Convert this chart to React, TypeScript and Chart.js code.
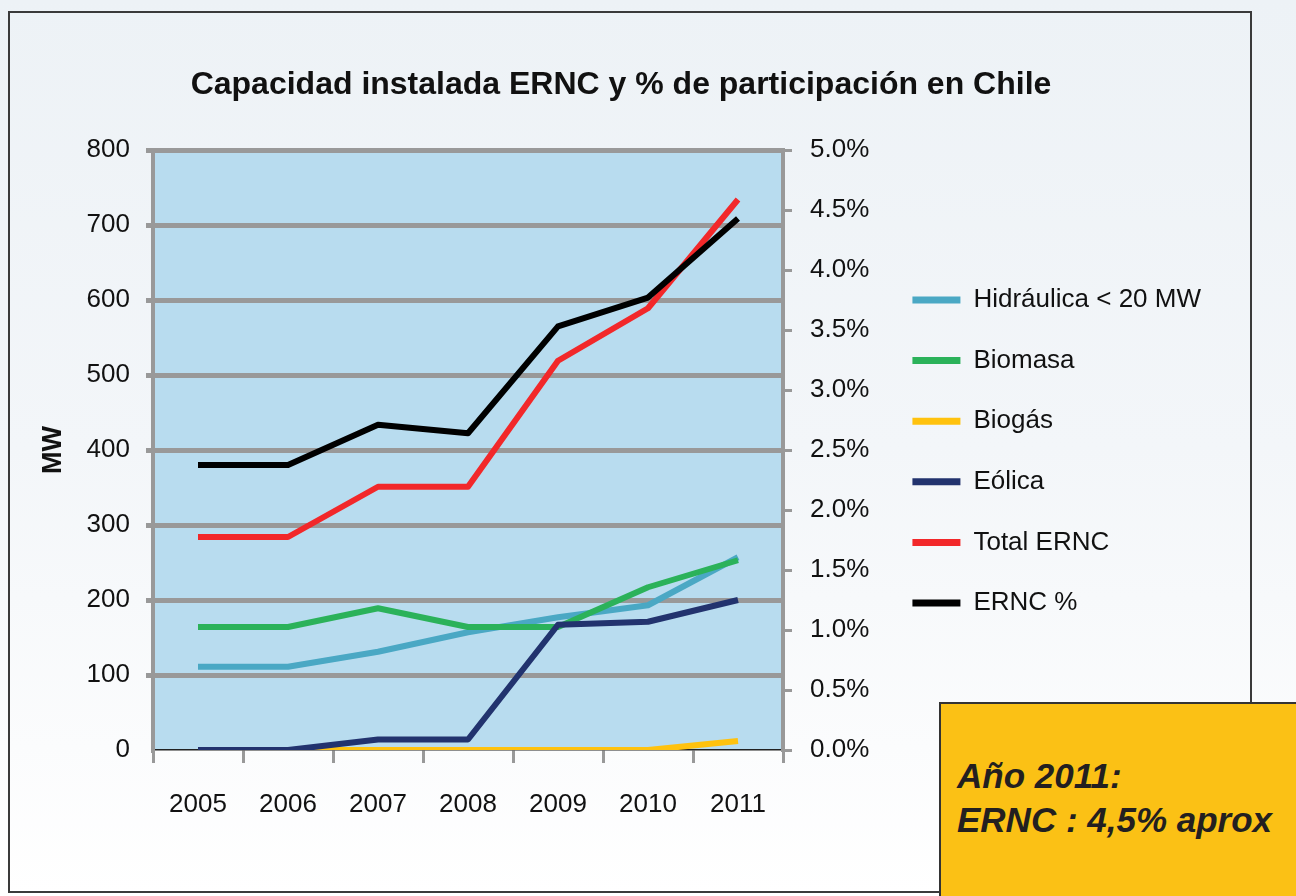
import React, { useEffect, useRef } from "react";
import { Chart, registerables } from "chart.js";

Chart.register(...registerables);

// ---- data ----
const years = ["2005", "2006", "2007", "2008", "2009", "2010", "2011"];
const hidraulica = [111, 111, 131, 157, 177, 193, 257];
const biomasa = [164, 164, 189, 164, 164, 217, 253];
const biogas = [0, 0, 0, 0, 0, 0, 12];
const eolica = [0, 0, 14, 14, 167, 171, 200];
const totalErnc = [284, 284, 351, 351, 519, 589, 734];
const ernccPct = [2.375, 2.375, 2.71, 2.64, 3.53, 3.77, 4.43];

const seriesNames = ["Hidráulica < 20 MW", "Biomasa", "Biogás", "Eólica", "Total ERNC", "ERNC %"];
const seriesColors = ["#4aa8c4", "#2bb25a", "#ffc20e", "#22336e", "#f2282a", "#000000"];

const titleText = "Capacidad instalada ERNC y % de participación en Chile";
const leftAxisTitle = "MW";
const noteLines = ["Año 2011:", "ERNC : 4,5% aprox"];

const FONT = "'Liberation Sans', Arial, Helvetica, sans-serif";
const GRID = "#999999";

const PAD_L = 31;
const PAD_R = 85;
const PAD_T = 7;

export default function App() {
  const ref = useRef<HTMLCanvasElement | null>(null);

  useEffect(() => {
    if (!ref.current) return;
    const bgPlugin = {
      id: "plotBg",
      beforeDraw(chart: any) {
        const { ctx, chartArea } = chart;
        if (!chartArea) return;
        ctx.save();
        ctx.fillStyle = "#b8dcef";
        ctx.fillRect(chartArea.left, chartArea.top, chartArea.right - chartArea.left, chartArea.bottom - chartArea.top);
        ctx.restore();
      },
    };

    const values = [hidraulica, biomasa, biogas, eolica, totalErnc, ernccPct];
    const datasets = values.map((d, i) => ({
      label: seriesNames[i],
      data: d,
      borderColor: seriesColors[i],
      backgroundColor: seriesColors[i],
      borderWidth: 6,
      pointRadius: 0,
      tension: 0,
      borderJoinStyle: "round" as const,
      borderCapStyle: "butt" as const,
      yAxisID: i === 5 ? "y1" : "y",
      order: 10 - i,
    }));

    const chart = new Chart(ref.current, {
      type: "line",
      data: { labels: years, datasets },
      options: {
        animation: false,
        responsive: false,
        devicePixelRatio: 1,
        layout: { padding: { left: PAD_L, right: PAD_R, top: PAD_T, bottom: 0 } },
        plugins: {
          tooltip: { enabled: false },
          title: {
            display: true,
            text: titleText,
            color: "#111111",
            font: { family: FONT, size: 32, weight: "bold", lineHeight: 1.2 },
            padding: { top: 58.8, bottom: 45.8 },
          },
          legend: {
            display: true,
            position: "right",
            align: "center",
            maxWidth: 500,
            labels: {
              color: "#111111",
              font: { family: FONT, size: 26, lineHeight: 1.2 },
              boxWidth: 48,
              boxHeight: 7,
              padding: 34.6,
              sort: (a: any, b: any) => a.datasetIndex - b.datasetIndex,
              generateLabels: (c: any) =>
                Chart.defaults.plugins.legend.labels.generateLabels(c).map((l: any) => ({
                  ...l,
                  fillStyle: seriesColors[l.datasetIndex],
                  lineWidth: 0,
                })),
            },
          },
        },
        scales: {
          x: {
            offset: true,
            grid: {
              offset: true,
              drawOnChartArea: false,
              drawTicks: true,
              tickLength: 13,
              color: GRID,
              lineWidth: 3,
            },
            border: { display: true, color: "#222222", width: 1.5 },
            ticks: {
              color: "#111111",
              font: { family: FONT, size: 26, lineHeight: 1.2 },
              padding: 26.4,
              maxRotation: 0,
            },
            afterFit: (s: any) => {
              s.height = 146;
            },
          },
          y: {
            position: "left",
            min: 0,
            max: 800,
            ticks: {
              stepSize: 100,
              color: "#111111",
              font: { family: FONT, size: 26 },
              padding: 16,
            },
            grid: {
              color: (c: any) => (c.tick && c.tick.value === 0 ? "rgba(0,0,0,0)" : GRID),
              lineWidth: 5,
              tickLength: 7,
              drawTicks: true,
            },
            border: { display: true, color: GRID, width: 4 },
            title: {
              display: true,
              text: leftAxisTitle,
              color: "#111111",
              font: { family: FONT, size: 27, weight: "bold", lineHeight: 1.2 },
              padding: { top: 6.8, bottom: 0 },
            },
            afterFit: (s: any) => {
              s.width = 153 - PAD_L;
            },
          },
          y1: {
            position: "right",
            min: 0,
            max: 5,
            ticks: {
              stepSize: 0.5,
              color: "#111111",
              font: { family: FONT, size: 26 },
              padding: 18,
              callback: (v: any) => Number(v).toFixed(1) + "%",
            },
            grid: {
              drawOnChartArea: false,
              drawTicks: true,
              tickLength: 9,
              color: GRID,
              lineWidth: 3,
            },
            border: { display: true, color: GRID, width: 4 },
            afterFit: (s: any) => {
              const lg = s.chart.legend;
              const lw = lg ? lg.width : 0;
              s.width = Math.max(90, s.chart.width - PAD_R - lw - 783);
            },
          },
        },
      },
      plugins: [bgPlugin],
    });
    return () => chart.destroy();
  }, []);

  return (
    <div
      style={{
        position: "absolute",
        left: 0,
        top: 0,
        width: 1296,
        height: 896,
        overflow: "hidden",
        background: "linear-gradient(180deg, #edf2f6 0%, #f3f6f9 50%, #ffffff 100%)",
        fontFamily: FONT,
      }}
    >
      <div
        style={{
          position: "absolute",
          left: 8,
          top: 11,
          width: 1240,
          height: 878,
          border: "2px solid #3a3a3a",
          boxSizing: "content-box",
        }}
      />
      <canvas ref={ref} width={1296} height={896} style={{ position: "absolute", left: 0, top: 0, width: 1296, height: 896 }} />
      <div
        style={{
          position: "absolute",
          left: 939,
          top: 702,
          width: 400,
          height: 250,
          background: "#fbc115",
          borderLeft: "2px solid #333333",
          borderTop: "2px solid #333333",
        }}
      >
        <div
          style={{
            position: "absolute",
            left: 16,
            top: 50,
            fontFamily: FONT,
            fontWeight: "bold",
            fontStyle: "italic",
            fontSize: 35,
            lineHeight: "44px",
            color: "#231f20",
            whiteSpace: "nowrap",
          }}
        >
          {noteLines.map((t, i) => (
            <div key={i}>{t}</div>
          ))}
        </div>
      </div>
    </div>
  );
}
